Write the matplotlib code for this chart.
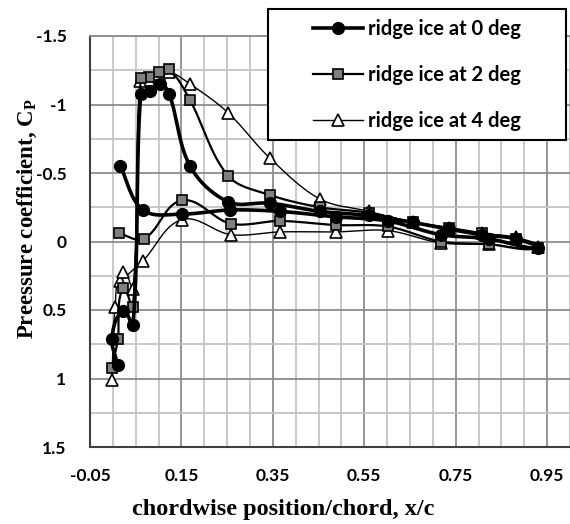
import numpy as np
import matplotlib
matplotlib.use("Agg")
import matplotlib.pyplot as plt
from matplotlib.patches import Rectangle
from matplotlib.ticker import MultipleLocator

plt.rcParams['mathtext.fontset'] = 'custom'
plt.rcParams['mathtext.rm'] = 'Liberation Serif:bold'
plt.rcParams['mathtext.bf'] = 'Liberation Serif:bold'

# Cp distributions, ordered lower surface -> trailing edge -> upper surface -> leading edge taps
x_0deg = [0.016, 0.066, 0.151, 0.256, 0.365, 0.488, 0.601, 0.717, 0.822, 0.931,
          0.881, 0.807, 0.735, 0.656, 0.560, 0.453, 0.343, 0.252, 0.169, 0.123,
          0.103, 0.081, 0.061, 0.044, 0.022, -0.002, 0.011]
cp_0deg = [-0.55, -0.23, -0.20, -0.23, -0.22, -0.18, -0.15, -0.05, -0.02, 0.05,
           -0.02, -0.05, -0.09, -0.14, -0.19, -0.22, -0.28, -0.29, -0.55, -1.08,
           -1.15, -1.10, -1.08, 0.61, 0.51, 0.71, 0.90]

x_2deg = [0.013, 0.068, 0.151, 0.258, 0.365, 0.488, 0.601, 0.717, 0.822, 0.931,
          0.881, 0.807, 0.735, 0.656, 0.560, 0.453, 0.343, 0.252, 0.169, 0.123,
          0.101, 0.079, 0.061, 0.044, 0.022, 0.011, -0.002]
cp_2deg = [-0.06, -0.02, -0.30, -0.13, -0.15, -0.12, -0.11, 0.00, 0.02, 0.05,
           -0.02, -0.06, -0.10, -0.14, -0.21, -0.25, -0.34, -0.48, -1.03, -1.26,
           -1.24, -1.20, -1.19, 0.48, 0.34, 0.71, 0.92]

x_4deg = [0.016, 0.066, 0.151, 0.258, 0.365, 0.488, 0.601, 0.717, 0.822, 0.931,
          0.881, 0.807, 0.735, 0.656, 0.560, 0.453, 0.343, 0.252, 0.169, 0.123,
          0.101, 0.079, 0.059, 0.044, 0.022, 0.005, -0.002]
cp_4deg = [0.29, 0.14, -0.16, -0.05, -0.07, -0.07, -0.08, 0.01, 0.02, 0.04,
           -0.03, -0.06, -0.10, -0.14, -0.22, -0.31, -0.61, -0.94, -1.15, -1.24,
           -1.22, -1.18, -1.17, 0.35, 0.22, 0.48, 1.01]

labels = ['ridge ice at 0 deg', 'ridge ice at 2 deg', 'ridge ice at 4 deg']

XLIM = (-0.05, 1.0)
YLIM = (1.5, -1.5)


def smooth(x, y, scale, n=16):
    """Bezier smoothing through every point; tangents scaled by chord length
    (in screen units) so short hops next to long jumps do not overshoot."""
    pts = np.column_stack([x, y]).astype(float) * scale
    P = np.vstack([pts[0], pts, pts[-1]])
    t = np.linspace(0, 1, n, endpoint=False)[:, None]
    segs = []
    for i in range(len(pts) - 1):
        p0, p1, p2, p3 = P[i], P[i + 1], P[i + 2], P[i + 3]
        seg_len = np.linalg.norm(p2 - p1)
        d1 = p2 - p0
        d2 = p3 - p1
        d1 = d1 / (np.linalg.norm(d1) or 1)
        d2 = d2 / (np.linalg.norm(d2) or 1)
        c1 = p1 + d1 * seg_len / 3
        c2 = p2 - d2 * seg_len / 3
        segs.append((1 - t) ** 3 * p1 + 3 * (1 - t) ** 2 * t * c1
                    + 3 * (1 - t) * t ** 2 * c2 + t ** 3 * p2)
    segs.append(pts[-1:])
    curve = np.vstack(segs) / scale
    marks = list(range(0, len(pts) * n, n))
    return curve[:, 0], curve[:, 1], marks


fig = plt.figure(figsize=(5.7, 5.24), dpi=100)
ax = fig.add_axes([90 / 570, 1 - 447 / 524, 480 / 570, 411 / 524])

# pixels per data unit along each axis, for smoothing in screen space
scale = np.array([480 / (XLIM[1] - XLIM[0]), 411 / abs(YLIM[1] - YLIM[0])])

styles = [
    dict(lw=2.6, marker='o', ms=8.5, mfc='black', mec='black', zorder=5),
    dict(lw=1.6, marker='s', ms=7.5, mfc='#808080', mec='black', mew=1.2, zorder=4),
    dict(lw=1.0, marker='^', ms=9, mfc='white', mec='black', mew=1.2, zorder=3),
]
handles = []
for xs, ys, lab, st in zip([x_0deg, x_2deg, x_4deg], [cp_0deg, cp_2deg, cp_4deg],
                           labels, styles):
    sx, sy, marks = smooth(xs, ys, scale)
    h, = ax.plot(sx, sy, color='black', markevery=marks, label=lab,
                 solid_joinstyle='round', **st)
    handles.append(h)

ax.set_xlim(*XLIM)
ax.set_ylim(*YLIM)
ax.set_xticks(np.arange(-0.05, 0.96, 0.2))
ax.set_xticklabels(['-0.05', '0.15', '0.35', '0.55', '0.75', '0.95'])
ax.set_yticks([-1.5, -1, -0.5, 0, 0.5, 1, 1.5])
ax.set_yticklabels(['-1.5', '-1', '-0.5', '0', '0.5', '1', '1.5'])
ax.xaxis.set_minor_locator(MultipleLocator(0.05))
ax.yaxis.set_minor_locator(MultipleLocator(0.25))
ax.grid(which='minor', color='#c4c4c4', lw=1.3)
ax.grid(which='major', color='#8c8c8c', lw=1.3)
ax.set_axisbelow(True)
ax.tick_params(which='both', length=0)
ax.tick_params(axis='y', pad=17)
ax.tick_params(axis='x', pad=15)
for lab in ax.get_xticklabels() + ax.get_yticklabels():
    lab.set_family('Lato')
    lab.set_weight('bold')
    lab.set_fontsize(12.5)
ax.spines['right'].set_visible(False)
ax.spines['top'].set_color('#8c8c8c')
ax.spines['top'].set_linewidth(1.3)
for s in ['left', 'bottom']:
    ax.spines[s].set_color('#404040')
    ax.spines[s].set_linewidth(1.5)

fig.text(283 / 570, 1 - 510 / 524, 'chordwise position/chord, x/c',
         family='Liberation Serif', weight='bold', fontsize=17.5,
         ha='center', va='center')
fig.text(27 / 570, 1 - 219 / 524, r'Preessure coefficient, C$_\mathrm{P}$',
         family='Liberation Serif', weight='bold', fontsize=16.5,
         rotation=90, ha='center', va='center')

# legend box sits over the top-right corner of the plot
fig.add_artist(Rectangle((268 / 570, 1 - 140 / 524), 298 / 570, 131 / 524,
                         transform=fig.transFigure, facecolor='white',
                         edgecolor='black', lw=1.5, zorder=4))
fig.legend(handles=handles, loc='center', bbox_to_anchor=(417 / 570, 1 - 75 / 524),
           frameon=False, prop=dict(family='Lato', weight='bold', size=14.5),
           handlelength=2.5, handletextpad=0.25, labelspacing=1.3)

plt.savefig('out.png', dpi=100)
